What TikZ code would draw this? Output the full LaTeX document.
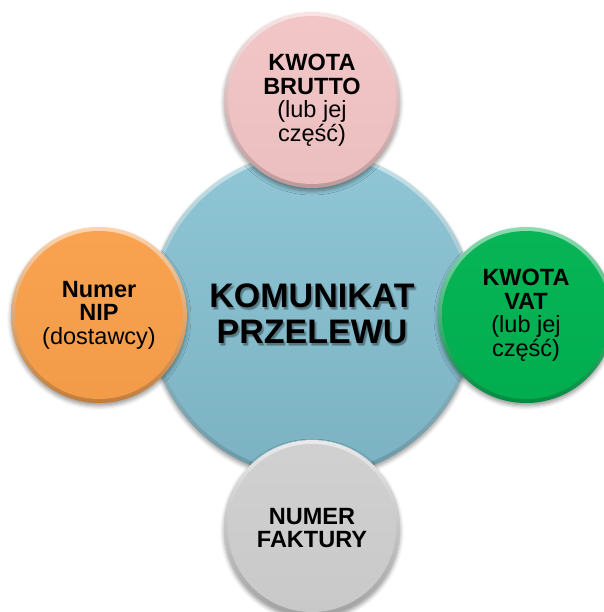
\documentclass[tikz,border=0pt]{standalone}
\usepackage{fontspec}
\setmainfont{Liberation Sans}
\usetikzlibrary{shadows.blur}

\definecolor{niebieski}{HTML}{86C1D2}
\definecolor{rozowy}{HTML}{F2C4C5}
\definecolor{pomaranczowy}{HTML}{F9A04B}
\definecolor{zielony}{HTML}{00B251}
\definecolor{szary}{HTML}{CFCFCF}

\tikzset{
        kula/.style n args={3}{circle, inner sep=0pt, minimum size=2*#2pt, align=center,
                top color=#1!45!white, bottom color=#1!78!black,
                blur shadow={shadow xshift=0pt, shadow yshift=-3pt, shadow blur radius=4pt, shadow opacity=40},
                path picture={\shade[top color=#1!#3!white, bottom color=#1!#3!black]
                        (path picture bounding box.center) circle ({#2pt-4pt});}},
        maly/.style={font=\fontsize{23.5}{23.5}\selectfont},
        duzy/.style={align=center, font=\fontsize{34}{36}\selectfont\bfseries}
}

\begin{document}
\begin{tikzpicture}[x=1pt,y=-1pt]
        \useasboundingbox (0,0) rectangle (603,612);
        \node[kula={niebieski}{163}{92}] (komunikat) at (312,314) {};
        \foreach \dx/\dy [count=\i] in {1/1.5, 2/2.5, 2.5/1.5, 1.5/3}
                \node[duzy, text=black, opacity=.1] (cien\i) at (312+\dx,314+\dy) {KOMUNIKAT\\PRZELEWU};
        \node[duzy] (napis) at (komunikat) {KOMUNIKAT\\PRZELEWU};
        \node[kula={rozowy}{88}{97}, maly] (brutto) at (312,100) {\textbf{KWOTA}\\\textbf{BRUTTO}\\(lub jej\\część)};
        \node[kula={pomaranczowy}{88}{97}, maly] (nip) at (99,315) {\textbf{Numer}\\\textbf{NIP}\\(dostawcy)};
        \node[kula={zielony}{88}{97}, maly] (vat) at (526,315) {\textbf{KWOTA}\\\textbf{VAT}\\(lub jej\\część)};
        \node[kula={szary}{88}{97}, maly] (faktura) at (312,528) {\textbf{NUMER}\\\textbf{FAKTURY}};
\end{tikzpicture}
\end{document}
